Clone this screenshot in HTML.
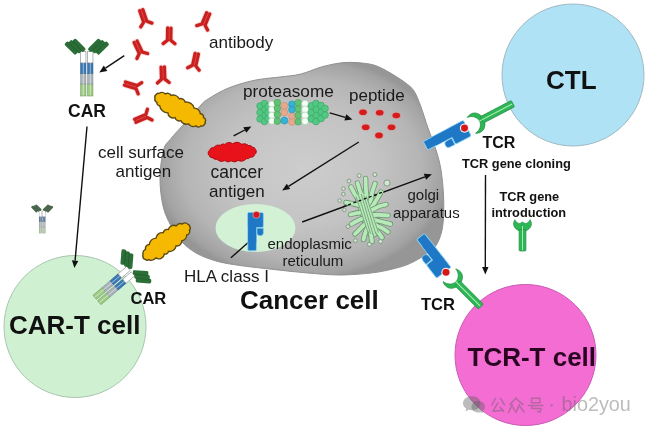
<!DOCTYPE html>
<html><head><meta charset="utf-8">
<style>
html,body{margin:0;padding:0;background:#fff;}
body{width:650px;height:431px;overflow:hidden;position:relative;}
svg{position:absolute;left:0;top:0;filter:blur(0.4px);}
text{font-family:"Liberation Sans",sans-serif;}
</style></head><body>
<svg width="650" height="431" viewBox="0 0 650 431">
<defs>
<radialGradient id="gg" cx="0" cy="0" r="1" gradientUnits="userSpaceOnUse" gradientTransform="translate(302,168) scale(148,112)">
<stop offset="0" stop-color="#cdcdcd"/><stop offset="0.5" stop-color="#c4c4c4"/><stop offset="0.8" stop-color="#b5b5b5"/><stop offset="0.95" stop-color="#a3a3a3"/><stop offset="1.05" stop-color="#969696"/>
</radialGradient>
<filter id="desat"><feColorMatrix type="saturate" values="0.5"/></filter>
</defs>
<path d="M345,62.5 C352.2,62 360.3,62.8 366,63.5 C371.7,64.2 374.7,65.2 379,67 C383.3,68.8 387.7,71.4 392,74 C396.3,76.6 401.3,79.7 405,82.5 C408.7,85.3 411.3,86.9 414,91 C416.7,95.1 418.7,100.8 421,107 C423.3,113.2 425.5,120.8 428,128 C430.5,135.2 433.8,143 436,150 C438.2,157 439.8,162.5 441,170 C442.2,177.5 443.1,187 443.5,195 C443.9,203 443.9,211.5 443.5,218 C443.1,224.5 442.4,229.2 441,234 C439.6,238.8 437.7,243.5 435,247 C432.3,250.5 428.8,252.4 425,255 C421.2,257.6 416.2,260.5 412,262.5 C407.8,264.5 406.2,265.3 400,267 C393.8,268.7 384.8,271.2 375,272.5 C365.2,273.8 352.2,274.9 341,275 C329.8,275.1 319.2,273.9 308,273 C296.8,272.1 285.3,270.8 274,269.5 C262.7,268.2 249.7,266.9 240,265.5 C230.3,264.1 223.3,263.1 216,261 C208.7,258.9 201.8,256.3 196,253 C190.2,249.7 185.2,245.5 181,241 C176.8,236.5 174,231.8 171,226 C168,220.2 164.8,214 163,206 C161.2,198 159.9,187.3 160,178 C160.1,168.7 161.7,156.6 163.5,150 C165.3,143.4 167.6,142.8 171,138.5 C174.4,134.2 179,129.6 184,124 C189,118.4 197.2,109 201,105 C204.8,101 202.5,102.6 206.5,100 C210.5,97.4 218.8,92.3 225,89.5 C231.2,86.7 237.7,84.7 243.5,83 C249.3,81.3 253.9,80.3 260,79.3 C266.1,78.3 273.2,77.9 280,77 C286.8,76.1 293.8,75.8 301,74 C308.2,72.2 315.7,68.4 323,66.5 C330.3,64.6 337.8,63 345,62.5Z" fill="url(#gg)" stroke="#919191" stroke-width="1"/>
<circle cx="573" cy="75" r="71" fill="#afe2f4" stroke="#9fb8c2" stroke-width="1"/>
<circle cx="75" cy="326.5" r="71" fill="#cff1d2" stroke="#a9c4b0" stroke-width="1"/>
<circle cx="525.5" cy="355" r="70.5" fill="#f36dd3" stroke="#c95bb5" stroke-width="1"/>
<ellipse cx="255.5" cy="228" rx="40" ry="24" fill="#d3f1d5"/>
<line x1="124.3" y1="55.7" x2="105.5" y2="68.2" stroke="#111" stroke-width="1.4"/><path d="M99.3,72.4 L103.8,65.6 L107.3,70.9Z" fill="#111"/>
<line x1="87" y1="126.5" x2="75.1" y2="260.6" stroke="#111" stroke-width="1.4"/><path d="M74.4,268.1 L71.9,260.3 L78.3,260.9Z" fill="#111"/>
<line x1="233.6" y1="135.9" x2="244.8" y2="130" stroke="#111" stroke-width="1.4"/><path d="M251.4,126.5 L246.3,132.8 L243.3,127.2Z" fill="#111"/>
<line x1="329.7" y1="112.8" x2="345.3" y2="117.4" stroke="#111" stroke-width="1.4"/><path d="M352.5,119.5 L344.4,120.5 L346.2,114.3Z" fill="#111"/>
<line x1="358.8" y1="142" x2="288.5" y2="186.4" stroke="#111" stroke-width="1.4"/><path d="M282.2,190.4 L286.8,183.7 L290.2,189.1Z" fill="#111"/>
<line x1="302.2" y1="222" x2="424.9" y2="176.8" stroke="#111" stroke-width="1.4"/><path d="M431.9,174.2 L426,179.8 L423.8,173.8Z" fill="#111"/>
<line x1="249.6" y1="241.3" x2="230.9" y2="257.8" stroke="#111" stroke-width="1.4"/>
<line x1="485.5" y1="175" x2="485.3" y2="267" stroke="#111" stroke-width="1.4"/><path d="M485.3,274.5 L482.1,267 L488.5,267Z" fill="#111"/>
<g transform="translate(145.3,22) rotate(-19)"><path d="M-1.65,-12.5 L-1.65,-0.3 L-5.9,3.2 M1.65,-12.5 L1.65,-0.3 L5.9,3.2" fill="none" stroke="#f5a3a3" stroke-width="5" stroke-linecap="round" stroke-linejoin="round" opacity="0.5"/><path d="M-1.65,-12.5 L-1.65,-0.3 L-5.9,3.2 M1.65,-12.5 L1.65,-0.3 L5.9,3.2" fill="none" stroke="#c8201f" stroke-width="3.3" stroke-linecap="round" stroke-linejoin="round"/><path d="M0,-12 L0,-1" stroke="#f05a5a" stroke-width="0.6"/></g>
<g transform="translate(169.1,40.5) rotate(1)"><path d="M-1.65,-12.5 L-1.65,-0.3 L-5.9,3.2 M1.65,-12.5 L1.65,-0.3 L5.9,3.2" fill="none" stroke="#f5a3a3" stroke-width="5" stroke-linecap="round" stroke-linejoin="round" opacity="0.5"/><path d="M-1.65,-12.5 L-1.65,-0.3 L-5.9,3.2 M1.65,-12.5 L1.65,-0.3 L5.9,3.2" fill="none" stroke="#c8201f" stroke-width="3.3" stroke-linecap="round" stroke-linejoin="round"/><path d="M0,-12 L0,-1" stroke="#f05a5a" stroke-width="0.6"/></g>
<g transform="translate(203.4,24.9) rotate(22.5)"><path d="M-1.65,-12.5 L-1.65,-0.3 L-5.9,3.2 M1.65,-12.5 L1.65,-0.3 L5.9,3.2" fill="none" stroke="#f5a3a3" stroke-width="5" stroke-linecap="round" stroke-linejoin="round" opacity="0.5"/><path d="M-1.65,-12.5 L-1.65,-0.3 L-5.9,3.2 M1.65,-12.5 L1.65,-0.3 L5.9,3.2" fill="none" stroke="#c8201f" stroke-width="3.3" stroke-linecap="round" stroke-linejoin="round"/><path d="M0,-12 L0,-1" stroke="#f05a5a" stroke-width="0.6"/></g>
<g transform="translate(140.9,53.1) rotate(-25)"><path d="M-1.65,-12.5 L-1.65,-0.3 L-5.9,3.2 M1.65,-12.5 L1.65,-0.3 L5.9,3.2" fill="none" stroke="#f5a3a3" stroke-width="5" stroke-linecap="round" stroke-linejoin="round" opacity="0.5"/><path d="M-1.65,-12.5 L-1.65,-0.3 L-5.9,3.2 M1.65,-12.5 L1.65,-0.3 L5.9,3.2" fill="none" stroke="#c8201f" stroke-width="3.3" stroke-linecap="round" stroke-linejoin="round"/><path d="M0,-12 L0,-1" stroke="#f05a5a" stroke-width="0.6"/></g>
<g transform="translate(163.2,79.5) rotate(-2)"><path d="M-1.65,-12.5 L-1.65,-0.3 L-5.9,3.2 M1.65,-12.5 L1.65,-0.3 L5.9,3.2" fill="none" stroke="#f5a3a3" stroke-width="5" stroke-linecap="round" stroke-linejoin="round" opacity="0.5"/><path d="M-1.65,-12.5 L-1.65,-0.3 L-5.9,3.2 M1.65,-12.5 L1.65,-0.3 L5.9,3.2" fill="none" stroke="#c8201f" stroke-width="3.3" stroke-linecap="round" stroke-linejoin="round"/><path d="M0,-12 L0,-1" stroke="#f05a5a" stroke-width="0.6"/></g>
<g transform="translate(194.1,65.9) rotate(12.4)"><path d="M-1.65,-12.5 L-1.65,-0.3 L-5.9,3.2 M1.65,-12.5 L1.65,-0.3 L5.9,3.2" fill="none" stroke="#f5a3a3" stroke-width="5" stroke-linecap="round" stroke-linejoin="round" opacity="0.5"/><path d="M-1.65,-12.5 L-1.65,-0.3 L-5.9,3.2 M1.65,-12.5 L1.65,-0.3 L5.9,3.2" fill="none" stroke="#c8201f" stroke-width="3.3" stroke-linecap="round" stroke-linejoin="round"/><path d="M0,-12 L0,-1" stroke="#f05a5a" stroke-width="0.6"/></g>
<g transform="translate(136.9,87.3) rotate(-72.5)"><path d="M-1.65,-12.5 L-1.65,-0.3 L-5.9,3.2 M1.65,-12.5 L1.65,-0.3 L5.9,3.2" fill="none" stroke="#f5a3a3" stroke-width="5" stroke-linecap="round" stroke-linejoin="round" opacity="0.5"/><path d="M-1.65,-12.5 L-1.65,-0.3 L-5.9,3.2 M1.65,-12.5 L1.65,-0.3 L5.9,3.2" fill="none" stroke="#c8201f" stroke-width="3.3" stroke-linecap="round" stroke-linejoin="round"/><path d="M0,-12 L0,-1" stroke="#f05a5a" stroke-width="0.6"/></g>
<g transform="translate(146.8,115.9) rotate(-113)"><path d="M-1.65,-12.5 L-1.65,-0.3 L-5.9,3.2 M1.65,-12.5 L1.65,-0.3 L5.9,3.2" fill="none" stroke="#f5a3a3" stroke-width="5" stroke-linecap="round" stroke-linejoin="round" opacity="0.5"/><path d="M-1.65,-12.5 L-1.65,-0.3 L-5.9,3.2 M1.65,-12.5 L1.65,-0.3 L5.9,3.2" fill="none" stroke="#c8201f" stroke-width="3.3" stroke-linecap="round" stroke-linejoin="round"/><path d="M0,-12 L0,-1" stroke="#f05a5a" stroke-width="0.6"/></g>
<g transform="translate(86.8,96) rotate(0) scale(1.0)" opacity="1.0" ><rect x="-6.15" y="-12" width="5.3" height="12" fill="#9ccb83" stroke="#7a9a6a" stroke-width="0.6"/><rect x="-6.15" y="-22.6" width="5.3" height="10.6" fill="#a9b2b8" stroke="#8a949a" stroke-width="0.6"/><rect x="-6.15" y="-33.1" width="5.3" height="10.5" fill="#3a78b4" stroke="#2c5f90" stroke-width="0.6"/><rect x="-6.15" y="-44.4" width="5.3" height="11.3" fill="#ffffff" stroke="#8f9699" stroke-width="0.7"/><line x1="-3.5000000000000004" y1="-44" x2="-3.5000000000000004" y2="-0.5" stroke="#ffffff" stroke-width="0.8" opacity="0.6"/><rect x="0.85" y="-12" width="5.3" height="12" fill="#9ccb83" stroke="#7a9a6a" stroke-width="0.6"/><rect x="0.85" y="-22.6" width="5.3" height="10.6" fill="#a9b2b8" stroke="#8a949a" stroke-width="0.6"/><rect x="0.85" y="-33.1" width="5.3" height="10.5" fill="#3a78b4" stroke="#2c5f90" stroke-width="0.6"/><rect x="0.85" y="-44.4" width="5.3" height="11.3" fill="#ffffff" stroke="#8f9699" stroke-width="0.7"/><line x1="3.5" y1="-44" x2="3.5" y2="-0.5" stroke="#ffffff" stroke-width="0.8" opacity="0.6"/><rect x="-7.5" y="-2.4" width="15.5" height="4.8" rx="1.6" fill="#2b6e37" transform="scale(-1,1) translate(-15.7,-48.1) rotate(45)"/><rect x="-7.5" y="-2.4" width="15.5" height="4.8" rx="1.6" fill="#2b6e37" transform="scale(-1,1) translate(-11.8,-49.5) rotate(45)"/><rect x="-7.5" y="-2.4" width="15.5" height="4.8" rx="1.6" fill="#2b6e37" transform="scale(-1,1) translate(-8,-50.9) rotate(45)"/><line x1="-6.5" y1="0" x2="6.5" y2="0" stroke="#1c4a22" stroke-width="0.6" opacity="0.7" transform="scale(-1,1) translate(-13.8,-48.8) rotate(45)"/><line x1="-6.5" y1="0" x2="6.5" y2="0" stroke="#1c4a22" stroke-width="0.6" opacity="0.7" transform="scale(-1,1) translate(-9.9,-50.2) rotate(45)"/><rect x="-7.5" y="-2.4" width="15.5" height="4.8" rx="1.6" fill="#2b6e37" transform="scale(1,1) translate(-15.7,-48.1) rotate(45)"/><rect x="-7.5" y="-2.4" width="15.5" height="4.8" rx="1.6" fill="#2b6e37" transform="scale(1,1) translate(-11.8,-49.5) rotate(45)"/><rect x="-7.5" y="-2.4" width="15.5" height="4.8" rx="1.6" fill="#2b6e37" transform="scale(1,1) translate(-8,-50.9) rotate(45)"/><line x1="-6.5" y1="0" x2="6.5" y2="0" stroke="#1c4a22" stroke-width="0.6" opacity="0.7" transform="scale(1,1) translate(-13.8,-48.8) rotate(45)"/><line x1="-6.5" y1="0" x2="6.5" y2="0" stroke="#1c4a22" stroke-width="0.6" opacity="0.7" transform="scale(1,1) translate(-9.9,-50.2) rotate(45)"/></g>
<g transform="translate(97,300) rotate(49.5) scale(1.0)" opacity="1.0" ><rect x="-6.15" y="-12" width="5.3" height="12" fill="#9ccb83" stroke="#7a9a6a" stroke-width="0.6"/><rect x="-6.15" y="-22.6" width="5.3" height="10.6" fill="#a9b2b8" stroke="#8a949a" stroke-width="0.6"/><rect x="-6.15" y="-33.1" width="5.3" height="10.5" fill="#3a78b4" stroke="#2c5f90" stroke-width="0.6"/><rect x="-6.15" y="-44.4" width="5.3" height="11.3" fill="#ffffff" stroke="#8f9699" stroke-width="0.7"/><line x1="-3.5000000000000004" y1="-44" x2="-3.5000000000000004" y2="-0.5" stroke="#ffffff" stroke-width="0.8" opacity="0.6"/><rect x="0.85" y="-12" width="5.3" height="12" fill="#9ccb83" stroke="#7a9a6a" stroke-width="0.6"/><rect x="0.85" y="-22.6" width="5.3" height="10.6" fill="#a9b2b8" stroke="#8a949a" stroke-width="0.6"/><rect x="0.85" y="-33.1" width="5.3" height="10.5" fill="#3a78b4" stroke="#2c5f90" stroke-width="0.6"/><rect x="0.85" y="-44.4" width="5.3" height="11.3" fill="#ffffff" stroke="#8f9699" stroke-width="0.7"/><line x1="3.5" y1="-44" x2="3.5" y2="-0.5" stroke="#ffffff" stroke-width="0.8" opacity="0.6"/><rect x="-7.5" y="-2.4" width="15.5" height="4.8" rx="1.6" fill="#2b6e37" transform="scale(-1,1) translate(-15.7,-48.1) rotate(45)"/><rect x="-7.5" y="-2.4" width="15.5" height="4.8" rx="1.6" fill="#2b6e37" transform="scale(-1,1) translate(-11.8,-49.5) rotate(45)"/><rect x="-7.5" y="-2.4" width="15.5" height="4.8" rx="1.6" fill="#2b6e37" transform="scale(-1,1) translate(-8,-50.9) rotate(45)"/><line x1="-6.5" y1="0" x2="6.5" y2="0" stroke="#1c4a22" stroke-width="0.6" opacity="0.7" transform="scale(-1,1) translate(-13.8,-48.8) rotate(45)"/><line x1="-6.5" y1="0" x2="6.5" y2="0" stroke="#1c4a22" stroke-width="0.6" opacity="0.7" transform="scale(-1,1) translate(-9.9,-50.2) rotate(45)"/><rect x="-7.5" y="-2.4" width="15.5" height="4.8" rx="1.6" fill="#2b6e37" transform="scale(1,1) translate(-15.7,-48.1) rotate(45)"/><rect x="-7.5" y="-2.4" width="15.5" height="4.8" rx="1.6" fill="#2b6e37" transform="scale(1,1) translate(-11.8,-49.5) rotate(45)"/><rect x="-7.5" y="-2.4" width="15.5" height="4.8" rx="1.6" fill="#2b6e37" transform="scale(1,1) translate(-8,-50.9) rotate(45)"/><line x1="-6.5" y1="0" x2="6.5" y2="0" stroke="#1c4a22" stroke-width="0.6" opacity="0.7" transform="scale(1,1) translate(-13.8,-48.8) rotate(45)"/><line x1="-6.5" y1="0" x2="6.5" y2="0" stroke="#1c4a22" stroke-width="0.6" opacity="0.7" transform="scale(1,1) translate(-9.9,-50.2) rotate(45)"/></g>
<g transform="translate(42.2,233.1) rotate(0) scale(0.5)" opacity="1.0" filter="url(#desat)"><rect x="-6.15" y="-12" width="5.3" height="12" fill="#9ccb83" stroke="#7a9a6a" stroke-width="0.6"/><rect x="-6.15" y="-22.6" width="5.3" height="10.6" fill="#a9b2b8" stroke="#8a949a" stroke-width="0.6"/><rect x="-6.15" y="-33.1" width="5.3" height="10.5" fill="#3a78b4" stroke="#2c5f90" stroke-width="0.6"/><rect x="-6.15" y="-44.4" width="5.3" height="11.3" fill="#ffffff" stroke="#8f9699" stroke-width="0.7"/><line x1="-3.5000000000000004" y1="-44" x2="-3.5000000000000004" y2="-0.5" stroke="#ffffff" stroke-width="0.8" opacity="0.6"/><rect x="0.85" y="-12" width="5.3" height="12" fill="#9ccb83" stroke="#7a9a6a" stroke-width="0.6"/><rect x="0.85" y="-22.6" width="5.3" height="10.6" fill="#a9b2b8" stroke="#8a949a" stroke-width="0.6"/><rect x="0.85" y="-33.1" width="5.3" height="10.5" fill="#3a78b4" stroke="#2c5f90" stroke-width="0.6"/><rect x="0.85" y="-44.4" width="5.3" height="11.3" fill="#ffffff" stroke="#8f9699" stroke-width="0.7"/><line x1="3.5" y1="-44" x2="3.5" y2="-0.5" stroke="#ffffff" stroke-width="0.8" opacity="0.6"/><rect x="-7.5" y="-2.4" width="15.5" height="4.8" rx="1.6" fill="#2b6e37" transform="scale(-1,1) translate(-15.7,-48.1) rotate(45)"/><rect x="-7.5" y="-2.4" width="15.5" height="4.8" rx="1.6" fill="#2b6e37" transform="scale(-1,1) translate(-11.8,-49.5) rotate(45)"/><rect x="-7.5" y="-2.4" width="15.5" height="4.8" rx="1.6" fill="#2b6e37" transform="scale(-1,1) translate(-8,-50.9) rotate(45)"/><line x1="-6.5" y1="0" x2="6.5" y2="0" stroke="#1c4a22" stroke-width="0.6" opacity="0.7" transform="scale(-1,1) translate(-13.8,-48.8) rotate(45)"/><line x1="-6.5" y1="0" x2="6.5" y2="0" stroke="#1c4a22" stroke-width="0.6" opacity="0.7" transform="scale(-1,1) translate(-9.9,-50.2) rotate(45)"/><rect x="-7.5" y="-2.4" width="15.5" height="4.8" rx="1.6" fill="#2b6e37" transform="scale(1,1) translate(-15.7,-48.1) rotate(45)"/><rect x="-7.5" y="-2.4" width="15.5" height="4.8" rx="1.6" fill="#2b6e37" transform="scale(1,1) translate(-11.8,-49.5) rotate(45)"/><rect x="-7.5" y="-2.4" width="15.5" height="4.8" rx="1.6" fill="#2b6e37" transform="scale(1,1) translate(-8,-50.9) rotate(45)"/><line x1="-6.5" y1="0" x2="6.5" y2="0" stroke="#1c4a22" stroke-width="0.6" opacity="0.7" transform="scale(1,1) translate(-13.8,-48.8) rotate(45)"/><line x1="-6.5" y1="0" x2="6.5" y2="0" stroke="#1c4a22" stroke-width="0.6" opacity="0.7" transform="scale(1,1) translate(-9.9,-50.2) rotate(45)"/></g>
<path d="M204.5,124.2 A2.9,2.9 0 0 1 200.9,125.9 A2.9,2.9 0 0 1 196.2,125.8 A5.9,5.9 0 0 1 188.6,123.8 A6.1,6.1 0 0 1 180.8,120.6 A4.2,4.2 0 0 1 175.1,117.6 A5.2,5.2 0 0 1 167.9,112.9 A8.5,8.5 0 0 1 159.6,105.7 A3,3 0 0 1 156.9,102.3 A3.4,3.4 0 0 1 155,98.2 A3.2,3.2 0 0 1 156.3,94.4 A2,2 0 0 1 158.9,93.5 A5,5 0 0 1 165.3,93.9 A4,4 0 0 1 171,95.4 A6.9,6.9 0 0 1 179.3,98.8 A4.6,4.6 0 0 1 185.2,102 A8.6,8.6 0 0 1 194.2,108.1 A6.6,6.6 0 0 1 200.4,113.8 A3.1,3.1 0 0 1 203.5,117.7 A2.9,2.9 0 0 1 205.1,122.1 A1.4,1.4 0 0 1 204.5,124.2Z" fill="#f6b902" stroke="#5a4a14" stroke-width="1.4"/>
<path d="M189.6,226.3 A2.9,2.9 0 0 1 189.4,230.1 A3.5,3.5 0 0 1 186.7,235 A5.9,5.9 0 0 1 181.7,240.9 A4.7,4.7 0 0 1 176.1,245.9 A6.9,6.9 0 0 1 168.4,251.5 A2.9,2.9 0 0 1 164.4,253.9 A5.6,5.6 0 0 1 155.8,257.9 A5.7,5.7 0 0 1 148.7,259.6 A2.2,2.2 0 0 1 145.2,259.2 A2.1,2.1 0 0 1 143.1,256.7 A1.7,1.7 0 0 1 143.1,254.6 A4.6,4.6 0 0 1 145.5,249.3 A4,4 0 0 1 149.3,244.5 A7.4,7.4 0 0 1 156,238.1 A6.3,6.3 0 0 1 163.1,232.7 A4.6,4.6 0 0 1 168.4,229.5 A5.5,5.5 0 0 1 176.2,225.8 A5.2,5.2 0 0 1 182.4,224 A4.1,4.1 0 0 1 188,224.4 A2,2 0 0 1 189.6,226.3Z" fill="#f6b902" stroke="#5a4a14" stroke-width="1.4"/>
<path d="M256.2,151.9 A2.8,2.8 0 0 1 254.9,154.3 A4.3,4.3 0 0 1 250.3,157.3 A4.2,4.2 0 0 1 246.3,158.7 A7.2,7.2 0 0 1 238,160.4 A5.5,5.5 0 0 1 231.1,160.8 A5,5 0 0 1 224.9,160.6 A6.9,6.9 0 0 1 216.8,159.3 A4.1,4.1 0 0 1 212.9,157.9 A3.9,3.9 0 0 1 209,155.2 A2.1,2.1 0 0 1 208.2,153 A2.8,2.8 0 0 1 209.4,150.4 A4.4,4.4 0 0 1 213.6,147.5 A6.6,6.6 0 0 1 220.5,145.2 A3.6,3.6 0 0 1 224.9,144.4 A6.1,6.1 0 0 1 232.7,143.8 A7.2,7.2 0 0 1 241.5,144.2 A7,7 0 0 1 248.8,145.7 A3.7,3.7 0 0 1 252.6,147.2 A2.9,2.9 0 0 1 255.4,149.4 A2.4,2.4 0 0 1 256.2,151.9Z" fill="#e8121a" stroke="#b00a10" stroke-width="1"/>
<circle cx="260" cy="106" r="3.3" fill="#52c983" stroke="#3a9f66" stroke-width="0.6"/>
<circle cx="260" cy="112.5" r="3.3" fill="#52c983" stroke="#3a9f66" stroke-width="0.6"/>
<circle cx="260" cy="119" r="3.3" fill="#52c983" stroke="#3a9f66" stroke-width="0.6"/>
<circle cx="264.5" cy="103.5" r="3.3" fill="#52c983" stroke="#3a9f66" stroke-width="0.6"/>
<circle cx="265" cy="109.5" r="3.3" fill="#52c983" stroke="#3a9f66" stroke-width="0.6"/>
<circle cx="265" cy="115.5" r="3.3" fill="#52c983" stroke="#3a9f66" stroke-width="0.6"/>
<circle cx="264.5" cy="121.5" r="3.3" fill="#52c983" stroke="#3a9f66" stroke-width="0.6"/>
<circle cx="268" cy="106.5" r="3.3" fill="#52c983" stroke="#3a9f66" stroke-width="0.6"/>
<circle cx="268" cy="112.5" r="3.3" fill="#52c983" stroke="#3a9f66" stroke-width="0.6"/>
<circle cx="268" cy="118.5" r="3.3" fill="#52c983" stroke="#3a9f66" stroke-width="0.6"/>
<circle cx="271.8" cy="104.2" r="3.2" fill="#f4fff6" stroke="#a9c8b2" stroke-width="0.6"/>
<circle cx="271.8" cy="109.6" r="3.2" fill="#f4fff6" stroke="#a9c8b2" stroke-width="0.6"/>
<circle cx="271.8" cy="115.3" r="3.2" fill="#f4fff6" stroke="#a9c8b2" stroke-width="0.6"/>
<circle cx="271.8" cy="121" r="3.2" fill="#f4fff6" stroke="#a9c8b2" stroke-width="0.6"/>
<circle cx="277.4" cy="102.6" r="3.3" fill="#62c274" stroke="#43a058" stroke-width="0.6"/>
<circle cx="277.4" cy="108.3" r="3.3" fill="#62c274" stroke="#43a058" stroke-width="0.6"/>
<circle cx="277.4" cy="114.6" r="3.3" fill="#62c274" stroke="#43a058" stroke-width="0.6"/>
<circle cx="277.4" cy="121.2" r="3.3" fill="#62c274" stroke="#43a058" stroke-width="0.6"/>
<circle cx="284.4" cy="105.8" r="3.5" fill="#e8a88e" stroke="#c48e76" stroke-width="0.6"/>
<circle cx="284.4" cy="112.6" r="3.5" fill="#e8a88e" stroke="#c48e76" stroke-width="0.6"/>
<circle cx="284.4" cy="120.6" r="3.5" fill="#33b3d8" stroke="#2a8fb0" stroke-width="0.6"/>
<circle cx="292" cy="104.3" r="3.4" fill="#33b3d8" stroke="#2a8fb0" stroke-width="0.6"/>
<circle cx="292" cy="109.6" r="3.4" fill="#33b3d8" stroke="#2a8fb0" stroke-width="0.6"/>
<circle cx="292" cy="116.4" r="3.4" fill="#e8a88e" stroke="#c48e76" stroke-width="0.6"/>
<circle cx="292" cy="122" r="3.4" fill="#e8a88e" stroke="#c48e76" stroke-width="0.6"/>
<circle cx="298.2" cy="102.8" r="3.3" fill="#62c274" stroke="#43a058" stroke-width="0.6"/>
<circle cx="298.2" cy="109" r="3.3" fill="#62c274" stroke="#43a058" stroke-width="0.6"/>
<circle cx="298.2" cy="115.4" r="3.3" fill="#62c274" stroke="#43a058" stroke-width="0.6"/>
<circle cx="298.2" cy="121.8" r="3.3" fill="#62c274" stroke="#43a058" stroke-width="0.6"/>
<circle cx="305" cy="103.6" r="3.4" fill="#f4fff6" stroke="#a9c8b2" stroke-width="0.6"/>
<circle cx="305" cy="109.4" r="3.4" fill="#f4fff6" stroke="#a9c8b2" stroke-width="0.6"/>
<circle cx="305" cy="115.4" r="3.4" fill="#f4fff6" stroke="#a9c8b2" stroke-width="0.6"/>
<circle cx="305" cy="121.2" r="3.4" fill="#f4fff6" stroke="#a9c8b2" stroke-width="0.6"/>
<circle cx="311.5" cy="106" r="3.4" fill="#52c983" stroke="#3a9f66" stroke-width="0.6"/>
<circle cx="311.5" cy="112.5" r="3.4" fill="#52c983" stroke="#3a9f66" stroke-width="0.6"/>
<circle cx="311.5" cy="119" r="3.4" fill="#52c983" stroke="#3a9f66" stroke-width="0.6"/>
<circle cx="316" cy="103.5" r="3.4" fill="#52c983" stroke="#3a9f66" stroke-width="0.6"/>
<circle cx="316.5" cy="109.5" r="3.4" fill="#52c983" stroke="#3a9f66" stroke-width="0.6"/>
<circle cx="316.5" cy="115.5" r="3.4" fill="#52c983" stroke="#3a9f66" stroke-width="0.6"/>
<circle cx="316" cy="121.5" r="3.4" fill="#52c983" stroke="#3a9f66" stroke-width="0.6"/>
<circle cx="321" cy="105.5" r="3.4" fill="#52c983" stroke="#3a9f66" stroke-width="0.6"/>
<circle cx="321.5" cy="112" r="3.4" fill="#52c983" stroke="#3a9f66" stroke-width="0.6"/>
<circle cx="321" cy="118.5" r="3.4" fill="#52c983" stroke="#3a9f66" stroke-width="0.6"/>
<circle cx="325" cy="108.5" r="3.4" fill="#52c983" stroke="#3a9f66" stroke-width="0.6"/>
<circle cx="325" cy="115" r="3.4" fill="#52c983" stroke="#3a9f66" stroke-width="0.6"/>
<ellipse cx="363" cy="112.3" rx="4.6" ry="3.5" fill="#f28080" opacity="0.6"/><ellipse cx="363" cy="112.3" rx="3.8" ry="2.8" fill="#d51c1c"/>
<ellipse cx="379.7" cy="112.7" rx="4.6" ry="3.5" fill="#f28080" opacity="0.6"/><ellipse cx="379.7" cy="112.7" rx="3.8" ry="2.8" fill="#d51c1c"/>
<ellipse cx="396.3" cy="115.5" rx="4.6" ry="3.5" fill="#f28080" opacity="0.6"/><ellipse cx="396.3" cy="115.5" rx="3.8" ry="2.8" fill="#d51c1c"/>
<ellipse cx="365.7" cy="127.3" rx="4.6" ry="3.5" fill="#f28080" opacity="0.6"/><ellipse cx="365.7" cy="127.3" rx="3.8" ry="2.8" fill="#d51c1c"/>
<ellipse cx="391.5" cy="127.3" rx="4.6" ry="3.5" fill="#f28080" opacity="0.6"/><ellipse cx="391.5" cy="127.3" rx="3.8" ry="2.8" fill="#d51c1c"/>
<ellipse cx="379" cy="135.4" rx="4.6" ry="3.5" fill="#f28080" opacity="0.6"/><ellipse cx="379" cy="135.4" rx="3.8" ry="2.8" fill="#d51c1c"/>
<path d="M362,197 L372.5,230" fill="none" stroke="#6f9572" stroke-width="15" stroke-linecap="round"/>
<path d="M362,197 L372.5,230" fill="none" stroke="#b6eab8" stroke-width="13.4" stroke-linecap="round"/>
<path d="M364,205 C362.7,203.5 358.2,199 356,196 C353.8,193 351.8,188.5 351,187" fill="none" stroke="#6f9572" stroke-width="5.4" stroke-linecap="round"/>
<path d="M364,205 C362.7,203.5 358.2,199 356,196 C353.8,193 351.8,188.5 351,187" fill="none" stroke="#b6eab8" stroke-width="3.8" stroke-linecap="round"/>
<path d="M366,204 C365.2,202.3 362.4,197.5 361,194 C359.6,190.5 358.1,184.8 357.5,183" fill="none" stroke="#6f9572" stroke-width="5.4" stroke-linecap="round"/>
<path d="M366,204 C365.2,202.3 362.4,197.5 361,194 C359.6,190.5 358.1,184.8 357.5,183" fill="none" stroke="#b6eab8" stroke-width="3.8" stroke-linecap="round"/>
<path d="M368,204 C367.7,201.7 366.4,194.2 366,190 C365.6,185.8 365.7,180.4 365.6,178.5" fill="none" stroke="#6f9572" stroke-width="5.4" stroke-linecap="round"/>
<path d="M368,204 C367.7,201.7 366.4,194.2 366,190 C365.6,185.8 365.7,180.4 365.6,178.5" fill="none" stroke="#b6eab8" stroke-width="3.8" stroke-linecap="round"/>
<path d="M370,205 C370.3,203 371.2,196.6 372,193 C372.8,189.4 374.5,185.1 375,183.5" fill="none" stroke="#6f9572" stroke-width="5.4" stroke-linecap="round"/>
<path d="M370,205 C370.3,203 371.2,196.6 372,193 C372.8,189.4 374.5,185.1 375,183.5" fill="none" stroke="#b6eab8" stroke-width="3.8" stroke-linecap="round"/>
<path d="M372,207 C372.8,205.7 375.5,201.5 377,199 C378.5,196.5 380.3,193.2 381,192" fill="none" stroke="#6f9572" stroke-width="5.4" stroke-linecap="round"/>
<path d="M372,207 C372.8,205.7 375.5,201.5 377,199 C378.5,196.5 380.3,193.2 381,192" fill="none" stroke="#b6eab8" stroke-width="3.8" stroke-linecap="round"/>
<path d="M372,210 C373.3,209.3 377.7,206.9 380,206 C382.3,205.1 385,204.8 386,204.5" fill="none" stroke="#6f9572" stroke-width="5.4" stroke-linecap="round"/>
<path d="M372,210 C373.3,209.3 377.7,206.9 380,206 C382.3,205.1 385,204.8 386,204.5" fill="none" stroke="#b6eab8" stroke-width="3.8" stroke-linecap="round"/>
<path d="M374,215 C375.2,215 378.7,214.9 381,215 C383.3,215.1 386.8,215.4 388,215.5" fill="none" stroke="#6f9572" stroke-width="5.4" stroke-linecap="round"/>
<path d="M374,215 C375.2,215 378.7,214.9 381,215 C383.3,215.1 386.8,215.4 388,215.5" fill="none" stroke="#b6eab8" stroke-width="3.8" stroke-linecap="round"/>
<path d="M375,220 C376.3,220.3 380.4,221.3 383,222 C385.6,222.7 389.2,223.7 390.5,224" fill="none" stroke="#6f9572" stroke-width="5.4" stroke-linecap="round"/>
<path d="M375,220 C376.3,220.3 380.4,221.3 383,222 C385.6,222.7 389.2,223.7 390.5,224" fill="none" stroke="#b6eab8" stroke-width="3.8" stroke-linecap="round"/>
<path d="M375,225 C376.2,225.5 379.8,226.8 382,228 C384.2,229.2 387,231.3 388,232" fill="none" stroke="#6f9572" stroke-width="5.4" stroke-linecap="round"/>
<path d="M375,225 C376.2,225.5 379.8,226.8 382,228 C384.2,229.2 387,231.3 388,232" fill="none" stroke="#b6eab8" stroke-width="3.8" stroke-linecap="round"/>
<path d="M373,226 C373.8,227 376.5,230.1 378,232 C379.5,233.9 381.3,236.6 382,237.5" fill="none" stroke="#6f9572" stroke-width="5.4" stroke-linecap="round"/>
<path d="M373,226 C373.8,227 376.5,230.1 378,232 C379.5,233.9 381.3,236.6 382,237.5" fill="none" stroke="#b6eab8" stroke-width="3.8" stroke-linecap="round"/>
<path d="M370,228 C370.2,229.2 370.7,232.8 371,235 C371.3,237.2 371.8,240.4 372,241.5" fill="none" stroke="#6f9572" stroke-width="5.4" stroke-linecap="round"/>
<path d="M370,228 C370.2,229.2 370.7,232.8 371,235 C371.3,237.2 371.8,240.4 372,241.5" fill="none" stroke="#b6eab8" stroke-width="3.8" stroke-linecap="round"/>
<path d="M367,228 C366.7,229 365.6,232.1 365,234 C364.4,235.9 363.8,238.6 363.5,239.5" fill="none" stroke="#6f9572" stroke-width="5.4" stroke-linecap="round"/>
<path d="M367,228 C366.7,229 365.6,232.1 365,234 C364.4,235.9 363.8,238.6 363.5,239.5" fill="none" stroke="#b6eab8" stroke-width="3.8" stroke-linecap="round"/>
<path d="M365,224 C364.2,224.8 361.7,227.3 360,229 C358.3,230.7 355.8,233.2 355,234" fill="none" stroke="#6f9572" stroke-width="5.4" stroke-linecap="round"/>
<path d="M365,224 C364.2,224.8 361.7,227.3 360,229 C358.3,230.7 355.8,233.2 355,234" fill="none" stroke="#b6eab8" stroke-width="3.8" stroke-linecap="round"/>
<path d="M363,206 C361.5,205.7 356.8,204.6 354,204 C351.2,203.4 347.3,202.8 346,202.5" fill="none" stroke="#6f9572" stroke-width="5.4" stroke-linecap="round"/>
<path d="M363,206 C361.5,205.7 356.8,204.6 354,204 C351.2,203.4 347.3,202.8 346,202.5" fill="none" stroke="#b6eab8" stroke-width="3.8" stroke-linecap="round"/>
<path d="M364,212 C362.8,212.2 359.2,212.6 357,213 C354.8,213.4 351.6,214.2 350.5,214.5" fill="none" stroke="#6f9572" stroke-width="5.4" stroke-linecap="round"/>
<path d="M364,212 C362.8,212.2 359.2,212.6 357,213 C354.8,213.4 351.6,214.2 350.5,214.5" fill="none" stroke="#b6eab8" stroke-width="3.8" stroke-linecap="round"/>
<path d="M364,218 C362.8,218.5 359.1,220 357,221 C354.9,222 352.4,223.5 351.5,224" fill="none" stroke="#6f9572" stroke-width="5.4" stroke-linecap="round"/>
<path d="M364,218 C362.8,218.5 359.1,220 357,221 C354.9,222 352.4,223.5 351.5,224" fill="none" stroke="#b6eab8" stroke-width="3.8" stroke-linecap="round"/>
<path d="M362,199 L372.5,228" fill="none" stroke="#b6eab8" stroke-width="11" stroke-linecap="round"/>
<path d="M356,196.4 L368,232.6 M358.6,195.2 L370.6,233.8 M361.2,194 L373.2,235 M363.8,195.2 L375.8,233.8 M366.4,196.4 L378.4,232.6" fill="none" stroke="#6f9572" stroke-width="0.8"/>
<circle cx="359.1" cy="175.6" r="2.0" fill="#d2e6d2" stroke="#849c88" stroke-width="1"/>
<circle cx="374.9" cy="174.6" r="2.0" fill="#d2e6d2" stroke="#849c88" stroke-width="1"/>
<circle cx="348.9" cy="181.1" r="1.9000000000000001" fill="#d2e6d2" stroke="#849c88" stroke-width="1"/>
<circle cx="343.4" cy="188.6" r="1.8" fill="#d2e6d2" stroke="#849c88" stroke-width="1"/>
<circle cx="343.4" cy="194.1" r="1.8" fill="#d2e6d2" stroke="#849c88" stroke-width="1"/>
<circle cx="339.6" cy="200.6" r="1.8" fill="#d2e6d2" stroke="#849c88" stroke-width="1"/>
<circle cx="344.3" cy="209.9" r="1.8" fill="#d2e6d2" stroke="#849c88" stroke-width="1"/>
<circle cx="348" cy="226.6" r="1.9000000000000001" fill="#d2e6d2" stroke="#849c88" stroke-width="1"/>
<circle cx="355.4" cy="240.6" r="1.9000000000000001" fill="#d2e6d2" stroke="#849c88" stroke-width="1"/>
<circle cx="369.4" cy="244.3" r="2.0" fill="#d2e6d2" stroke="#849c88" stroke-width="1"/>
<circle cx="380.5" cy="241.5" r="2.0" fill="#d2e6d2" stroke="#849c88" stroke-width="1"/>
<circle cx="387" cy="183" r="3.0999999999999996" fill="#d2e6d2" stroke="#849c88" stroke-width="1"/>
<line x1="343" y1="206.8" x2="385" y2="191.3" stroke="#111" stroke-width="1.3" stroke-dasharray="3,2.5"/>
<g transform="translate(247.8,250.8) rotate(0) scale(1.0,1.0)"><rect x="0" y="-38.3" width="8.6" height="38.3" rx="1.2" fill="#1f78c6" stroke="#8fd4f2" stroke-width="0.8"/><rect x="0" y="-38.3" width="15.6" height="15.1" rx="1.5" fill="#1f78c6" stroke="#8fd4f2" stroke-width="0.8"/><rect x="0.4" y="-37.9" width="8" height="30" fill="#1f78c6"/><path d="M9.2,-22.6 L15.6,-22.6 L15.6,-18 Q15.6,-15 12.4,-15 Q9.2,-15 9.2,-18Z" fill="#1f78c6" stroke="#8fd4f2" stroke-width="0.6"/><circle cx="8.6" cy="-36" r="3.8" fill="#f4a0a0" opacity="0.8"/><circle cx="8.6" cy="-36" r="3" fill="#d51a1a"/></g>
<g transform="translate(423.2,141.5) rotate(62.3) scale(1.12,1.18)"><rect x="0" y="-38.3" width="8.6" height="38.3" rx="1.2" fill="#1f78c6" stroke="#8fd4f2" stroke-width="0.8"/><rect x="0" y="-38.3" width="15.6" height="15.1" rx="1.5" fill="#1f78c6" stroke="#8fd4f2" stroke-width="0.8"/><rect x="0.4" y="-37.9" width="8" height="30" fill="#1f78c6"/><path d="M9.2,-22.6 L15.6,-22.6 L15.6,-18 Q15.6,-15 12.4,-15 Q9.2,-15 9.2,-18Z" fill="#1f78c6" stroke="#8fd4f2" stroke-width="0.6"/></g>
<g transform="translate(424.5,233.4) rotate(142.1) scale(1.15,1.12)"><rect x="0" y="-38.3" width="8.6" height="38.3" rx="1.2" fill="#1f78c6" stroke="#8fd4f2" stroke-width="0.8"/><rect x="0" y="-38.3" width="15.6" height="15.1" rx="1.5" fill="#1f78c6" stroke="#8fd4f2" stroke-width="0.8"/><rect x="0.4" y="-37.9" width="8" height="30" fill="#1f78c6"/><path d="M9.2,-22.6 L15.6,-22.6 L15.6,-18 Q15.6,-15 12.4,-15 Q9.2,-15 9.2,-18Z" fill="#1f78c6" stroke="#8fd4f2" stroke-width="0.6"/></g>
<circle cx="464.5" cy="128.1" r="4.6" fill="#ffffff"/><circle cx="464.5" cy="128.1" r="3.8" fill="#f09090"/><circle cx="464.5" cy="128.1" r="3.3" fill="#d41818"/>
<circle cx="446" cy="272.3" r="4.6" fill="#ffffff"/><circle cx="446" cy="272.3" r="3.8" fill="#f09090"/><circle cx="446" cy="272.3" r="3.3" fill="#d41818"/>
<g transform="translate(522.5,230) rotate(0) scale(1.0)"><path d="M-7.6,-10.3 C-10,-6.5 -9.4,-2 -3.5,0.8 L3.5,0.8 C9.4,-2 10,-6.5 7.6,-10.3 C6.2,-7.3 3.5,-5.8 1.5,-7 L0,-8 L-1.5,-7 C-3.5,-5.8 -6.2,-7.3 -7.6,-10.3Z" fill="#2eb654" stroke="#24904a" stroke-width="0.7" stroke-linejoin="round"/><rect x="-3.4" y="-0.5" width="6.8" height="21.5" rx="1" fill="#2eb654" stroke="#24904a" stroke-width="0.7"/><line x1="0" y1="-4" x2="0" y2="20.2" stroke="#b0f0c0" stroke-width="0.9"/></g>
<g transform="translate(482.2,119.7) rotate(-117.6) scale(1.05)"><path d="M-8.5,-11.5 C-11,-7 -10.2,-1.5 -3.4,1 L3.4,1 C10.2,-1.5 11,-7 8.5,-11.5 C8,-6.5 4.5,-3 0,-2.8 C-4.5,-3 -8,-6.5 -8.5,-11.5Z" fill="#2eb654" stroke="#24904a" stroke-width="0.7" stroke-linejoin="round"/><rect x="-3.4" y="-0.5" width="6.8" height="33.5" rx="1" fill="#2eb654" stroke="#24904a" stroke-width="0.7"/><line x1="0" y1="-4" x2="0" y2="32.2" stroke="#b0f0c0" stroke-width="0.9"/></g>
<g transform="translate(458,283.8) rotate(-45) scale(1.05)"><path d="M-8.5,-11.5 C-11,-7 -10.2,-1.5 -3.4,1 L3.4,1 C10.2,-1.5 11,-7 8.5,-11.5 C8,-6.5 4.5,-3 0,-2.8 C-4.5,-3 -8,-6.5 -8.5,-11.5Z" fill="#2eb654" stroke="#24904a" stroke-width="0.7" stroke-linejoin="round"/><rect x="-3.4" y="-0.5" width="6.8" height="31.3" rx="1" fill="#2eb654" stroke="#24904a" stroke-width="0.7"/><line x1="0" y1="-4" x2="0" y2="30.0" stroke="#b0f0c0" stroke-width="0.9"/></g>
<text x="209" y="48" font-size="17" font-weight="400" fill="#1a1a1a">antibody</text>
<text x="68" y="117" font-size="17.5" font-weight="700" fill="#111">CAR</text>
<text x="98" y="157.5" font-size="17" font-weight="400" fill="#1a1a1a">cell surface</text>
<text x="115.5" y="177" font-size="17" font-weight="400" fill="#1a1a1a">antigen</text>
<text x="243" y="97" font-size="17.2" font-weight="400" fill="#1a1a1a">proteasome</text>
<text x="349" y="101" font-size="17" font-weight="400" fill="#1a1a1a">peptide</text>
<text x="210.5" y="177.5" font-size="17.5" font-weight="400" fill="#1a1a1a">cancer</text>
<text x="209" y="197" font-size="17" font-weight="400" fill="#1a1a1a">antigen</text>
<text x="407.5" y="200" font-size="15" font-weight="400" fill="#1a1a1a">golgi</text>
<text x="393" y="217.5" font-size="15" font-weight="400" fill="#1a1a1a">apparatus</text>
<text x="267.5" y="248.5" font-size="15" font-weight="400" fill="#1a1a1a">endoplasmic</text>
<text x="282.5" y="266" font-size="15" font-weight="400" fill="#1a1a1a">reticulum</text>
<text x="184" y="282" font-size="17" font-weight="400" fill="#1a1a1a">HLA class I</text>
<text x="240" y="309" font-size="26" font-weight="700" fill="#111">Cancer cell</text>
<text x="130.5" y="304" font-size="16.5" font-weight="700" fill="#111">CAR</text>
<text x="9" y="334" font-size="26" font-weight="700" fill="#111">CAR-T cell</text>
<text x="482.5" y="147.5" font-size="16" font-weight="700" fill="#111">TCR</text>
<text x="462" y="167.5" font-size="12.8" font-weight="700" fill="#111">TCR gene cloning</text>
<text x="499.5" y="201" font-size="12.8" font-weight="700" fill="#111">TCR gene</text>
<text x="491.5" y="216.5" font-size="12.8" font-weight="700" fill="#111">introduction</text>
<text x="546" y="89" font-size="26" font-weight="700" fill="#111">CTL</text>
<text x="421" y="310" font-size="16.5" font-weight="700" fill="#111">TCR</text>
<text x="467.5" y="365.5" font-size="26" font-weight="700" fill="#2a0522">TCR-T cell</text>
<g fill="rgba(95,95,95,0.42)"><path d="M463,403.5 C463,399 467,396.3 472,396.3 C477,396.3 480.5,399 480.5,403.3 C480.5,407.6 477,410.3 472,410.3 C470.8,410.3 469.8,410.1 468.8,409.8 L465.5,411.5 L466.2,408.5 C464.2,407.3 463,405.5 463,403.5Z"/><path d="M471.5,406.8 C471.5,403.3 474.6,401 478.3,401 C482,401 485,403.3 485,406.8 C485,408.5 484.2,410 482.8,411 L483.3,413.3 L480.8,412.2 C480,412.5 479.2,412.6 478.3,412.6 C474.6,412.6 471.5,410.2 471.5,406.8Z"/></g>
<g fill="none" stroke="rgba(95,95,95,0.42)" stroke-width="1.5" stroke-linecap="round" stroke-linejoin="round"><path d="M495.5,398.5 L491.8,405 M500.5,398.5 L504.5,404.8 M497.8,403 L493,411.2 L503.2,410.3 M500.2,407.3 L503.5,411.5"/><path d="M516.2,397.8 L510,404.6 M516.2,398.8 L523,404.6 M512.2,404.5 L508.5,412.5 M512.3,406 L515,411 M519.5,404.5 L516,412.5 M519.6,406 L524,412"/><path d="M531.5,398.3 L540,398.3 L540,402.8 L531.5,402.8Z M528.5,405.5 L543,405.5 M532.5,405.8 L531.6,408.6 L541,408.6 L540.2,412 L537.5,411.5"/></g>
<circle cx="551.5" cy="405.2" r="1.2" fill="rgba(95,95,95,0.42)"/>
<text x="561.5" y="411" font-size="19.8" fill="rgba(95,95,95,0.42)">bio2you</text>
</svg>
</body></html>
